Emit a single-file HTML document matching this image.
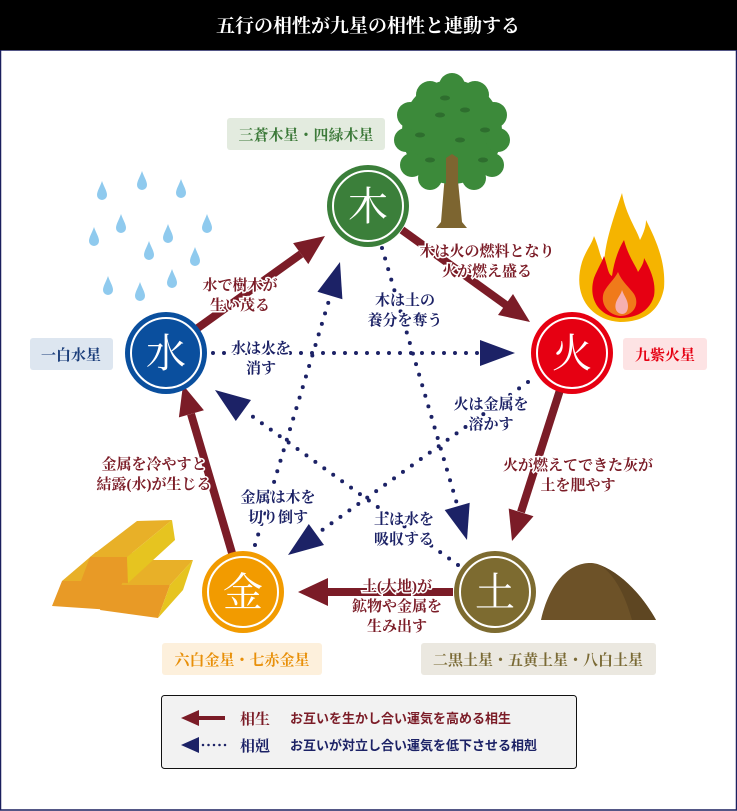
<!DOCTYPE html>
<html><head><meta charset="utf-8"><style>
html,body{margin:0;padding:0;background:#fff;}
svg{display:block;}
text{font-family:"Liberation Serif","Noto Serif CJK SC","Noto Sans CJK JP",serif;font-weight:bold;}
.r{fill:#7b1c27;font-size:15px;paint-order:stroke;stroke:#fff;stroke-width:3px;text-anchor:middle;}
.b{fill:#1c2266;font-size:15px;paint-order:stroke;stroke:#fff;stroke-width:3px;text-anchor:middle;}
.lb{font-size:15px;text-anchor:middle;}
.dot{stroke:#1c2266;stroke-width:4;stroke-linecap:round;stroke-dasharray:0 11;fill:none;}
.sol{stroke:#7b1c27;stroke-width:8;fill:none;}
.c{fill:#fff;font-size:40px;text-anchor:middle;font-weight:normal;}
.lg{font-size:13px;font-family:"Liberation Sans","Noto Sans CJK JP",sans-serif;font-weight:bold;}
</style></head><body>
<svg width="737" height="811" viewBox="0 0 737 811" xmlns="http://www.w3.org/2000/svg">
<rect x="0" y="0" width="737" height="811" fill="#fff"/>
<rect x="0.5" y="50" width="736" height="760" fill="none" stroke="#1a1f5e" stroke-width="1.5"/>
<rect x="0" y="0" width="737" height="50" fill="#000"/>
<text x="368" y="32" fill="#fff" font-size="19" text-anchor="middle">五行の相性が九星の相性と連動する</text>

<!-- raindrops -->
<g fill="#8fcaee">
<path transform="translate(142,181)" d="M0,-10 C2,-4 5,0 5,4 A5,5 0 0 1 -5,4 C-5,0 -2,-4 0,-10Z"/>
<path transform="translate(102,191)" d="M0,-10 C2,-4 5,0 5,4 A5,5 0 0 1 -5,4 C-5,0 -2,-4 0,-10Z"/>
<path transform="translate(181,189)" d="M0,-10 C2,-4 5,0 5,4 A5,5 0 0 1 -5,4 C-5,0 -2,-4 0,-10Z"/>
<path transform="translate(121,224)" d="M0,-10 C2,-4 5,0 5,4 A5,5 0 0 1 -5,4 C-5,0 -2,-4 0,-10Z"/>
<path transform="translate(207,224)" d="M0,-10 C2,-4 5,0 5,4 A5,5 0 0 1 -5,4 C-5,0 -2,-4 0,-10Z"/>
<path transform="translate(94,237)" d="M0,-10 C2,-4 5,0 5,4 A5,5 0 0 1 -5,4 C-5,0 -2,-4 0,-10Z"/>
<path transform="translate(168,234)" d="M0,-10 C2,-4 5,0 5,4 A5,5 0 0 1 -5,4 C-5,0 -2,-4 0,-10Z"/>
<path transform="translate(149,251)" d="M0,-10 C2,-4 5,0 5,4 A5,5 0 0 1 -5,4 C-5,0 -2,-4 0,-10Z"/>
<path transform="translate(195,257)" d="M0,-10 C2,-4 5,0 5,4 A5,5 0 0 1 -5,4 C-5,0 -2,-4 0,-10Z"/>
<path transform="translate(108,286)" d="M0,-10 C2,-4 5,0 5,4 A5,5 0 0 1 -5,4 C-5,0 -2,-4 0,-10Z"/>
<path transform="translate(140,292)" d="M0,-10 C2,-4 5,0 5,4 A5,5 0 0 1 -5,4 C-5,0 -2,-4 0,-10Z"/>
<path transform="translate(172,279)" d="M0,-10 C2,-4 5,0 5,4 A5,5 0 0 1 -5,4 C-5,0 -2,-4 0,-10Z"/>
</g>

<!-- tree -->
<path d="M447,150 L441,222 L436,228 L467,228 L462,222 L455,150Z" fill="#7d6530"/>
<g fill="#3c8a3a">
<ellipse cx="452" cy="132" rx="50" ry="52"/>
<circle cx="430" cy="95" r="14"/><circle cx="452" cy="86" r="13"/><circle cx="475" cy="95" r="14"/>
<circle cx="410" cy="115" r="13"/><circle cx="494" cy="115" r="13"/>
<circle cx="406" cy="140" r="12"/><circle cx="498" cy="140" r="12"/>
<circle cx="412" cy="165" r="12"/><circle cx="492" cy="165" r="12"/>
<circle cx="430" cy="178" r="12"/><circle cx="474" cy="178" r="12"/>
</g>
<path d="M446,158 L452,154 L458,158 L458,185 L446,185Z" fill="#7d6530"/>
<g fill="#2e6e2e">
<ellipse cx="440" cy="115" rx="5" ry="2.5"/><ellipse cx="465" cy="110" rx="5" ry="2.5"/><ellipse cx="420" cy="135" rx="5" ry="2.5"/>
<ellipse cx="485" cy="130" rx="5" ry="2.5"/><ellipse cx="460" cy="140" rx="5" ry="2.5"/><ellipse cx="430" cy="160" rx="5" ry="2.5"/>
<ellipse cx="483" cy="160" rx="5" ry="2.5"/><ellipse cx="445" cy="98" rx="5" ry="2.5"/>
</g>

<!-- flame -->
<path d="M620,322 C590,320 572,295 582,262 C586,250 592,244 594,236 C600,250 600,258 604,262 C606,240 612,222 622,193 C626,215 636,228 640,240 C644,232 646,226 646,220 C656,240 666,262 664,288 C660,310 645,322 620,322Z" fill="#f5b400"/>
<path d="M620,318 C598,316 588,298 594,278 C598,268 602,262 604,256 C608,268 608,274 612,276 C614,262 618,250 624,240 C628,256 636,266 638,272 C642,266 644,262 644,258 C652,272 656,284 654,296 C650,310 638,318 620,318Z" fill="#e60012"/>
<path d="M620,316 C606,314 600,302 604,292 C608,284 614,280 618,272 C622,282 630,288 634,294 C640,304 634,316 620,316Z" fill="#f07a1a"/>
<path d="M622,314 C615,313 614,306 617,300 C619,296 621,294 622,290 C624,296 628,300 628,306 C628,312 625,314 622,314Z" fill="#f6b0b0"/>

<!-- gold bars -->
<polygon points="62,581 96,552 158,553 123,581" fill="#e8b028"/>
<polygon points="107,585 140,560 193,560 170,585" fill="#e8b028"/>
<polygon points="52,606 62,581 123,581 112,610" fill="#e89a26"/>
<polygon points="100,610 107,585 170,585 158,618" fill="#e89a26"/>
<polygon points="158,618 170,585 193,560 183,590" fill="#e6c420"/>
<polygon points="90,557 137,521 172,520 127,557" fill="#e8b028"/>
<polygon points="81,581 90,557 127,557 128,583" fill="#e89a26"/>
<polygon points="128,583 127,557 172,520 175,540" fill="#e6c420"/>

<!-- mound -->
<path d="M541,620 C555,560 590,560 600,565 C625,575 645,600 656,620Z" fill="#6d5228"/>
<path d="M600,565 C625,575 645,600 656,620 L632,620 C625,595 615,575 600,565Z" fill="#5e4622"/>

<!-- label boxes -->
<rect x="227" y="118" width="158" height="32" rx="3" fill="#e3ebdf"/>
<text class="lb" x="306" y="140" fill="#3d7a3a">三蒼木星・四緑木星</text>
<rect x="30" y="338" width="83" height="32" rx="3" fill="#dde6f0"/>
<text class="lb" x="71" y="360" fill="#1a3d7a">一白水星</text>
<rect x="623" y="338" width="84" height="32" rx="3" fill="#fde3e4"/>
<text class="lb" x="665" y="360" fill="#e60012">九紫火星</text>
<rect x="162" y="643" width="160" height="32" rx="3" fill="#fdf0dc"/>
<text class="lb" x="242" y="665" fill="#e8900a">六白金星・七赤金星</text>
<rect x="421" y="643" width="235" height="32" rx="3" fill="#ebe8e0"/>
<text class="lb" x="538" y="665" fill="#7a6a35">二黒土星・五黄土星・八白土星</text>

<!-- solid arrows -->
<g fill="#7b1c27">
<line class="sol" x1="402" y1="230" x2="506" y2="305"/><polygon points="530,322 498,315 513,294"/>
<line class="sol" x1="195" y1="330" x2="301" y2="254"/><polygon points="325,236 308.3,264.1 293.1,243.1"/>
<line class="sol" x1="560" y1="390" x2="521" y2="512"/><polygon points="512,541 533.5,516.3 508.7,508.5"/>
<line class="sol" x1="453" y1="592" x2="328" y2="592"/><polygon points="298,592 328,578 328,606"/>
<line class="sol" x1="232" y1="553" x2="191" y2="414"/><polygon points="183,385 203.9,410.2 178.9,417.4"/>
</g>
<!-- dotted arrows -->
<g fill="#1c2266">
<line class="dot" x1="213" y1="353" x2="478" y2="353"/><polygon points="515,353 480,340 480,366"/>
<line class="dot" x1="382" y1="248" x2="457" y2="504"/><polygon points="467,540 469.7,502.8 444.7,510"/>
<line class="dot" x1="528" y1="382" x2="318" y2="533"/><polygon points="288,555 324,545 308.8,524"/>
<line class="dot" x1="255" y1="545" x2="330" y2="297"/><polygon points="340,262 342.4,299.2 317.4,291.8"/>
<line class="dot" x1="458" y1="565" x2="245" y2="411"/><polygon points="215,390 251,400 235.8,421"/>
</g>

<!-- circles -->
<circle cx="368" cy="206" r="41" fill="#3b7f3a"/><circle cx="368" cy="206" r="35" fill="none" stroke="#fff" stroke-width="2"/>
<text class="c" x="368" y="220">木</text>
<circle cx="166" cy="353" r="41" fill="#0a4f9e"/><circle cx="166" cy="353" r="35" fill="none" stroke="#fff" stroke-width="2"/>
<text class="c" x="166" y="367">水</text>
<circle cx="572" cy="353" r="41" fill="#e60012"/><circle cx="572" cy="353" r="35" fill="none" stroke="#fff" stroke-width="2"/>
<text class="c" x="572" y="367">火</text>
<circle cx="243" cy="592" r="41" fill="#f29b00"/><circle cx="243" cy="592" r="35" fill="none" stroke="#fff" stroke-width="2"/>
<text class="c" x="243" y="606">金</text>
<circle cx="495" cy="592" r="41" fill="#7d6b30"/><circle cx="495" cy="592" r="35" fill="none" stroke="#fff" stroke-width="2"/>
<text class="c" x="495" y="606">土</text>

<!-- arrow texts -->
<text class="r" x="240" y="290">水で樹木が</text><text class="r" x="240" y="310">生い茂る</text>
<text class="r" x="487" y="256">木は火の燃料となり</text><text class="r" x="487" y="276">火が燃え盛る</text>
<text class="r" x="578" y="470">火が燃えてできた灰が</text><text class="r" x="578" y="490">土を肥やす</text>
<text class="r" x="397" y="591">土(大地)が</text><text class="r" x="397" y="611">鉱物や金属を</text><text class="r" x="397" y="631">生み出す</text>
<text class="r" x="154" y="469">金属を冷やすと</text><text class="r" x="154" y="489">結露(水)が生じる</text>
<text class="b" x="405" y="305">木は土の</text><text class="b" x="405" y="325">養分を奪う</text>
<text class="b" x="261" y="353">水は火を</text><text class="b" x="261" y="373">消す</text>
<text class="b" x="491" y="409">火は金属を</text><text class="b" x="491" y="429">溶かす</text>
<text class="b" x="278" y="502">金属は木を</text><text class="b" x="278" y="522">切り倒す</text>
<text class="b" x="404" y="524">土は水を</text><text class="b" x="404" y="544">吸収する</text>

<!-- legend -->
<rect x="161.5" y="695.5" width="415" height="73" rx="3" fill="#f2f2f2" stroke="#111" stroke-width="1"/>
<polygon points="181,718 199,710 199,726" fill="#7b1c27"/><rect x="198" y="716" width="27" height="4" fill="#7b1c27"/>
<text x="240" y="724" fill="#7b1c27" font-size="15">相生</text>
<text class="lg" x="290" y="723" fill="#7b1c27">お互いを生かし合い運気を高める相生</text>
<polygon points="181,745 199,737 199,753" fill="#1c2266"/>
<line x1="203" y1="745" x2="226" y2="745" stroke="#1c2266" stroke-width="2.5" stroke-linecap="round" stroke-dasharray="0 5.5"/>
<text x="240" y="751" fill="#1c2266" font-size="15">相剋</text>
<text class="lg" x="290" y="750" fill="#1c2266">お互いが対立し合い運気を低下させる相剋</text>
</svg>
</body></html>
